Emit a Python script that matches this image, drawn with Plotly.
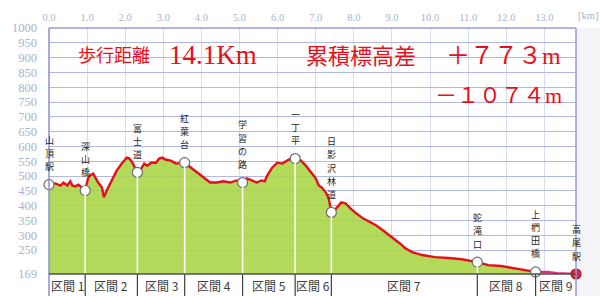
import plotly.graph_objects as go

# ---------------- data ----------------
dist_km = [0.00, 0.17, 0.30, 0.38, 0.48, 0.56, 0.61, 0.69, 0.77, 0.87, 0.95,
           1.03, 1.08, 1.16, 1.21, 1.29, 1.39, 1.44, 1.54, 1.65, 1.78, 1.91, 2.04, 2.11, 2.19, 2.32,
           2.42, 2.50, 2.58, 2.68, 2.81, 2.89, 2.97, 3.07, 3.20, 3.33, 3.46, 3.56,
           3.72, 3.90, 4.05, 4.23, 4.41, 4.57, 4.75, 4.93, 5.08,
           5.19, 5.32, 5.45, 5.58, 5.66, 5.73, 5.86, 5.99, 6.12, 6.25, 6.35, 6.46,
           6.61, 6.74, 6.87, 7.00, 7.08, 7.16, 7.26, 7.34, 7.41,
           7.54, 7.67, 7.78, 7.91, 8.06, 8.24, 8.42, 8.58, 8.76, 8.94, 9.02, 9.20, 9.35, 9.53,
           9.79, 10.13, 10.49, 10.83, 11.24,
           11.53, 11.86, 12.20, 12.56, 12.77]
elev_m = [471, 475, 468, 478, 468, 482, 468, 465, 471, 461, 451,
          495, 502, 508, 495, 478, 461, 428, 458, 485, 519, 542, 562, 559, 545, 512,
          525, 542, 535, 545, 545, 559, 562, 555, 552, 542, 545, 545,
          529, 512, 495, 478, 478, 482, 478, 485, 478,
          492, 485, 478, 485, 482, 502, 529, 545, 542, 552, 559, 559,
          552, 535, 512, 492, 468, 461, 445, 424, 377,
          391, 411, 408, 391, 374, 357, 344, 334, 317, 300, 293, 273, 256, 243,
          233, 226, 223, 219, 209,
          199, 196, 189, 182, 176]
last_km = [12.77, 13.08, 13.33, 13.67, 13.83]
last_elev = [176, 176, 172, 169, 169]

wp_names = ["山頂駅", "深山橋", "富士道", "紅葉台", "学習の路", "一丁平", "日影沢林道", "蛇滝口", "上椚田橋", "高尾駅"]
wp_km = [0.00, 0.95, 2.32, 3.56, 5.08, 6.46, 7.41, 11.24, 12.77, 13.83]
wp_elev = [471, 451, 512, 545, 478, 559, 377, 209, 176, 169]

seg_labels = ["区間 1", "区間 2", "区間 3", "区間 4", "区間 5", "区間 6", "区間 7", "区間 8", "区間 9"]

x_tickvals = list(range(0, 14))
x_ticktext = ["0.0", "1.0", "2.0", "3.0", "4.0", "5.0", "6.0", "7.0", "8.0", "9.0",
              "10.0", "11.0", "12.0", "13.0"]
y_tickvals = [169, 250, 300, 350, 400, 450, 500, 550, 600, 650, 700, 750, 800, 850, 900, 950, 1000]

title_dist = ["歩行距離", "14.1Km"]
title_climb = ["累積標高差", "＋７７３m", "－１０７４m"]

X_MAX = 13.83
Y_MIN, Y_MAX = 169, 1000
RED = "#e5101c"
CJK = "Noto Sans CJK JP"

fig = go.Figure()

# area + line, main part
fig.add_trace(go.Scatter(x=dist_km, y=elev_m, mode="lines", fill="tozeroy",
                         fillcolor="rgba(168,213,68,0.88)",
                         line=dict(color=RED, width=2.4), hoverinfo="skip"))
# last section (pink)
fig.add_trace(go.Scatter(x=last_km, y=last_elev, mode="lines", fill="tozeroy",
                         fillcolor="rgba(226,180,222,0.9)",
                         line=dict(color="#e0307a", width=2.4), hoverinfo="skip"))

shapes = []
# white vertical lines from waypoints down through the fill
for k, e in zip(wp_km[1:-1], wp_elev[1:-1]):
    shapes.append(dict(type="line", xref="x", yref="y", x0=k, x1=k, y0=Y_MIN, y1=e,
                       line=dict(color="white", width=1.6), layer="above"))

# right-side grey strip
shapes.append(dict(type="rect", xref="paper", yref="paper", x0=1.0, x1=1.06, y0=-0.1, y1=1.0,
                   fillcolor="#f4f4f6", line=dict(width=0), layer="below"))
# plot frame
shapes.append(dict(type="line", xref="paper", yref="paper", x0=0, x1=1, y0=1, y1=1,
                   line=dict(color="#9a9ad2", width=1.5)))
shapes.append(dict(type="line", xref="paper", yref="paper", x0=0, x1=0, y0=-0.095, y1=1,
                   line=dict(color="#8a92cc", width=1.5)))
shapes.append(dict(type="line", xref="paper", yref="paper", x0=1, x1=1, y0=-0.095, y1=1,
                   line=dict(color="#9a9ad2", width=1.5)))
# segment bar
shapes.append(dict(type="line", xref="paper", yref="paper", x0=0, x1=1, y0=0, y1=0,
                   line=dict(color="#505050", width=1.5)))
for k in wp_km[1:-1]:
    shapes.append(dict(type="line", xref="x", yref="paper", x0=k, x1=k, y0=-0.095, y1=0,
                       line=dict(color="#404040", width=1.2)))

annotations = []
# segment labels
for i, lab in enumerate(seg_labels):
    annotations.append(dict(x=(wp_km[i] + wp_km[i + 1]) / 2, y=-0.047, xref="x", yref="paper",
                            text=lab, showarrow=False, xanchor="center", yanchor="middle",
                            font=dict(family=CJK, size=12, color="#3c3c3c")))
# vertical waypoint labels (characters stacked above the marker)
PITCH = 13.2
for name, k, e in zip(wp_names, wp_km, wp_elev):
    n = len(name)
    for j, ch in enumerate(name):
        annotations.append(dict(x=k, y=e, xref="x", yref="y", text=ch, showarrow=False,
                                xanchor="center", yanchor="middle", borderpad=0,
                                yshift=18 + (n - 1 - j) * PITCH,
                                font=dict(family=CJK, size=9, color="#1e1e1e")))
# red headline texts
heads = [
    dict(x=0.123, y=0.894, text=title_dist[0], font=dict(family=CJK, size=18, color=RED)),
    dict(x=0.312, y=0.890, text=title_dist[1], font=dict(family="Liberation Serif", size=27, color=RED)),
    dict(x=0.592, y=0.894, text=title_climb[0], font=dict(family=CJK, size=22, color=RED)),
    dict(x=0.863, y=0.886, text=title_climb[1], font=dict(family="Liberation Serif, " + CJK, size=24, color=RED)),
    dict(x=0.852, y=0.724, text=title_climb[2], font=dict(family="Liberation Serif, " + CJK, size=22, color=RED)),
]
for a in heads:
    a.update(xref="paper", yref="paper", showarrow=False, xanchor="center", yanchor="middle")
annotations += heads
# unit
annotations.append(dict(x=1.0, y=1.0, xref="paper", yref="paper", text="[km]", showarrow=False,
                        xanchor="left", yanchor="bottom", yshift=5,
                        font=dict(family="Liberation Serif", size=10.5, color="#a8b4cc")))

# waypoint markers
fig.add_trace(go.Scatter(x=wp_km[:-1], y=wp_elev[:-1], mode="markers", cliponaxis=False,
                         marker=dict(size=10, color="white", line=dict(color="#6e6e6e", width=1.2)),
                         hoverinfo="skip"))
fig.add_trace(go.Scatter(x=wp_km[-1:], y=wp_elev[-1:], mode="markers", cliponaxis=False,
                         marker=dict(size=10, color="#e0283c", line=dict(color="#902030", width=1.2)),
                         hoverinfo="skip"))

fig.update_layout(
    width=600, height=296,
    margin=dict(l=41, r=24, t=28, b=22, pad=0),
    paper_bgcolor="white", plot_bgcolor="white",
    showlegend=False,
    shapes=shapes, annotations=annotations,
    xaxis=dict(range=[0, X_MAX], side="top", tickvals=x_tickvals, ticktext=x_ticktext,
               showgrid=True, gridcolor="#d6dcf0", gridwidth=1, zeroline=False,
               showline=False, ticks="", ticklabelstandoff=4,
               tickfont=dict(family="Liberation Serif", size=10.5, color="#a8b4cc")),
    yaxis=dict(range=[Y_MIN, Y_MAX], tickvals=y_tickvals, ticktext=[str(v) for v in y_tickvals],
               showgrid=True, gridcolor="#b2b9e2", gridwidth=1.4, zeroline=False,
               showline=False, ticks="", ticklabelstandoff=11,
               tickfont=dict(family="Liberation Serif", size=12.5, color="#a8b4cc")),
)

fig.write_html("out.html")
